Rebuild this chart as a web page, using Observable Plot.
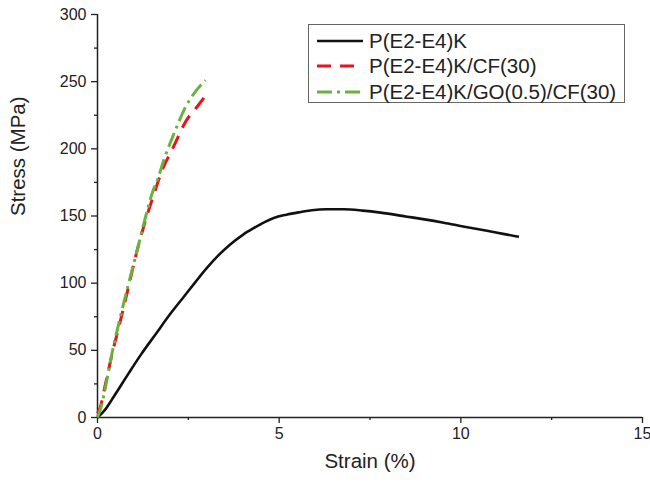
<!DOCTYPE html>
<html>
<head>
<meta charset="utf-8">
<script src="https://cdn.jsdelivr.net/npm/d3@7"></script>
<script src="https://cdn.jsdelivr.net/npm/@observablehq/plot@0.6"></script>
<style>
  body { margin: 0; background: #fff; }
  #wrap { position: relative; width: 650px; height: 482px; font-family: "Liberation Sans", Arial, sans-serif; }
  #legend { position: absolute; left: 308px; top: 24px; width: 317px; height: 79px; border: 1px solid #666; box-sizing: border-box; background: #fff; }
  .row { position: absolute; left: 8px; height: 25px; display: flex; align-items: center; font-size: 20.5px; color: #222; white-space: nowrap; }
  .row svg { margin-right: 6px; }
</style>
</head>
<body>
<div id="wrap"><div id="chart"></div><div id="legend"></div></div>
<script>
// Series names
const seriesNames = ["P(E2-E4)K", "P(E2-E4)K/CF(30)", "P(E2-E4)K/GO(0.5)/CF(30)"];
const seriesColors = ["#111111", "#e8131b", "#6ab23e"];
const seriesDash = [null, "14,9", "15,5,3,5"];

// Strain (%) / Stress (MPa) for each series
const neatStrain = [0, 0.2, 0.4, 0.6, 0.86, 1.2, 1.6, 2.0, 2.35, 2.7, 3.0, 3.34, 3.66, 4.0, 4.3, 4.6, 4.85, 5.2, 5.6, 5.9, 6.3, 6.78, 7.3, 7.79, 8.52, 9.0, 9.53, 10.1, 10.72, 11.2, 11.6];
const neatStress = [0, 5.5, 13.5, 22, 33, 47, 62, 77, 89, 101, 111, 121, 129, 136, 141, 145.5, 148.5, 151, 153, 154.3, 155, 155, 154, 152.5, 149.5, 147.5, 145, 142, 139, 136.5, 134.5];

const cfStrain = [0, 0.08, 0.22, 0.4, 0.63, 0.86, 1.05, 1.32, 1.55, 1.78, 2.1, 2.42, 2.79, 2.97];
const cfStress = [3, 8, 25, 47, 72, 98, 120, 146.6, 166, 184, 202, 220, 233, 239.5];

const goStrain = [0, 0.1, 0.2, 0.4, 0.63, 0.86, 1.05, 1.32, 1.53, 1.64, 1.83, 2.01, 2.19, 2.42, 2.65, 2.97];
const goStress = [0, 8, 20, 48, 75, 100, 120, 149, 169, 176, 192, 205, 217, 231, 241, 251];

// Axis ticks
const xMajor = [0, 5, 10, 15];
const xMinor = [2.5, 7.5, 12.5];
const yMajor = [0, 50, 100, 150, 200, 250, 300];
const yMinor = [25, 75, 125, 175, 225, 275];

const toRows = (xs, ys, name) => xs.map((x, i) => ({strain: x, stress: ys[i], series: name}));
const series = [
  toRows(neatStrain, neatStress, seriesNames[0]),
  toRows(cfStrain, cfStress, seriesNames[1]),
  toRows(goStrain, goStress, seriesNames[2])
];

const font = "Liberation Sans, Arial, sans-serif";
const chart = Plot.plot({
  width: 650,
  height: 482,
  marginLeft: 97,
  marginRight: 8,
  marginTop: 14,
  marginBottom: 65,
  style: {fontFamily: font, background: "#fff", color: "#222", overflow: "visible"},
  x: {domain: [0, 15]},
  y: {domain: [0, 300]},
  marks: [
    Plot.axisX({ticks: xMajor, tickSize: 6, tickPadding: 4, fontSize: 16, label: null, strokeWidth: 1.3, stroke: "#222"}),
    Plot.axisX({ticks: xMinor, tickSize: 3, tickFormat: () => "", label: null, strokeWidth: 1.3, stroke: "#222"}),
    Plot.axisY({ticks: yMajor, tickSize: 6, tickPadding: 5, fontSize: 16, label: null, strokeWidth: 1.3, stroke: "#222"}),
    Plot.axisY({ticks: yMinor, tickSize: 3, tickFormat: () => "", label: null, strokeWidth: 1.3, stroke: "#222"}),
    Plot.ruleX([0], {stroke: "#222", strokeWidth: 1.5}),
    Plot.ruleY([0], {stroke: "#222", strokeWidth: 1.5}),
    Plot.text(["Strain (%)"], {frameAnchor: "bottom", dy: 50, fontSize: 20.5, fill: "#222"}),
    Plot.text(["Stress (MPa)"], {frameAnchor: "left", dx: -79, rotate: -90, fontSize: 20.5, fill: "#222"}),
    ...series.map((rows, i) => Plot.line(rows, {
      x: "strain", y: "stress", curve: "monotone-x",
      stroke: seriesColors[i], strokeWidth: i === 0 ? 2.6 : 3,
      strokeDasharray: seriesDash[i], strokeLinecap: "butt"
    }))
  ]
});
document.getElementById("chart").append(chart);

// Legend
const legend = document.getElementById("legend");
seriesNames.forEach((name, i) => {
  const row = document.createElement("div");
  row.className = "row";
  row.style.top = (3 + i * 25.5) + "px";
  const dash = seriesDash[i] ? `stroke-dasharray="${seriesDash[i]}"` : "";
  row.innerHTML = `<svg width="46" height="10"><line x1="0" y1="5" x2="46" y2="5" stroke="${seriesColors[i]}" stroke-width="${i === 0 ? 2.6 : 3}" ${dash}/></svg><span>${name}</span>`;
  legend.append(row);
});
</script>
</body>
</html>
